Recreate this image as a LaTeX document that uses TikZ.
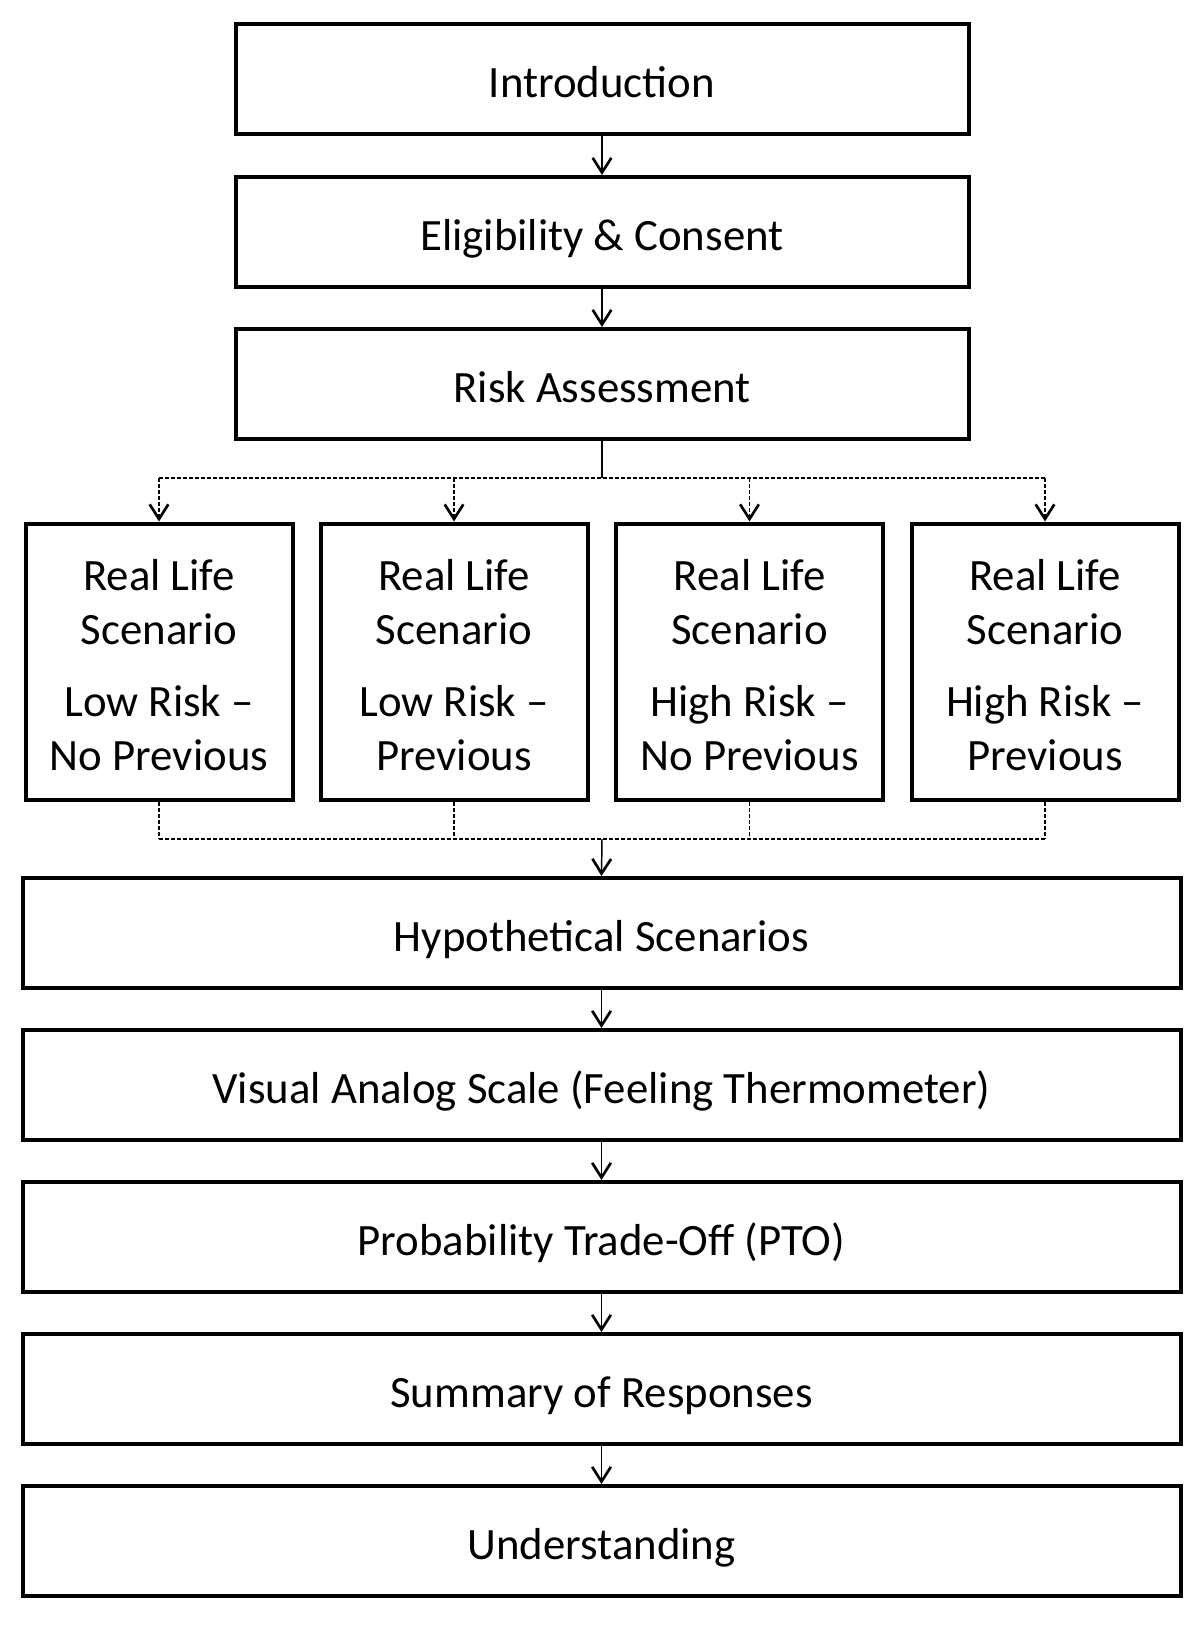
\documentclass[tikz,border=0pt]{standalone}
\usepackage{fontspec}
\setmainfont{Carlito}
\usetikzlibrary{arrows.meta}
\begin{document}
\begin{tikzpicture}[x=0.75pt,y=-0.75pt,
  box/.style={draw,line width=3pt,inner sep=0pt,font=\fontsize{33.6}{40.5}\selectfont,align=center},
  wide/.style={box,minimum width=733*0.75pt,minimum height=110*0.75pt,text height=27pt,text depth=0pt},
  vwide/.style={box,minimum width=1158*0.75pt,minimum height=110*0.75pt,text height=27pt,text depth=0pt},
  small/.style={box,minimum width=267*0.75pt,minimum height=276*0.75pt},
  smalltext/.style={inner sep=0pt,font=\fontsize{33.6}{40.5}\selectfont,align=center},
  tip/.style={-{Straight Barb[length=11pt,width=14pt,line width=2pt]}},
  arr/.style={line width=1.1pt,tip},
  dsh/.style={line width=0.8pt,dash pattern=on 3pt off 1.5pt},
  darr/.style={dsh,tip},
  solid line/.style={line width=1.1pt}]
\useasboundingbox (0,0) rectangle (1200,1634);
\fill[white] (0,0) rectangle (1200,1634);
\node[wide] (intro) at (602,79.5) {Introduction};
\node[wide] (elig) at (602,232) {Eligibility \& Consent};
\node[wide] (risk) at (602,384) {Risk Assessment};
\node[small] (s1) at (159,661.5) {};
\node[small] (s2) at (454,661.5) {};
\node[small] (s3) at (749.5,661.5) {};
\node[small] (s4) at (1045,661.5) {};
\node[smalltext] (t1) at ([yshift=-2.8pt]s1.center) {Real Life\\Scenario\\[14pt]Low Risk –\\No Previous};
\node[smalltext] (t2) at ([yshift=-2.8pt]s2.center) {Real Life\\Scenario\\[14pt]Low Risk –\\Previous};
\node[smalltext] (t3) at ([yshift=-2.8pt]s3.center) {Real Life\\Scenario\\[14pt]High Risk –\\No Previous};
\node[smalltext] (t4) at ([yshift=-2.8pt]s4.center) {Real Life\\Scenario\\[14pt]High Risk –\\Previous};
\node[vwide] (hyp) at (601.5,933) {Hypothetical Scenarios};
\node[vwide] (vas) at (601.5,1085) {Visual Analog Scale (Feeling Thermometer)};
\node[vwide] (pto) at (601.5,1237) {Probability Trade-Off (PTO)};
\node[vwide] (sum) at (601.5,1389) {Summary of Responses};
\node[vwide] (und) at (601.5,1541) {Understanding};
\draw[arr] (intro) -- (elig);
\draw[arr] (elig) -- (risk);
\coordinate (split) at (602,478);
\coordinate (merge) at (602,839);
\draw[solid line] (risk.south) -- (split);
\draw[dsh] (s1.north |- split) -- (s4.north |- split);
\foreach \s in {s1,s2,s3,s4} {
  \draw[darr] (\s.north |- split) -- (\s.north);
  \draw[dsh] (\s.south) -- (\s.south |- merge);
}
\draw[dsh] (s1.south |- merge) -- (s4.south |- merge);
\draw[arr] (merge) -- (hyp.north);
\draw[arr] (hyp) -- (vas);
\draw[arr] (vas) -- (pto);
\draw[arr] (pto) -- (sum);
\draw[arr] (sum) -- (und);
\end{tikzpicture}
\end{document}
